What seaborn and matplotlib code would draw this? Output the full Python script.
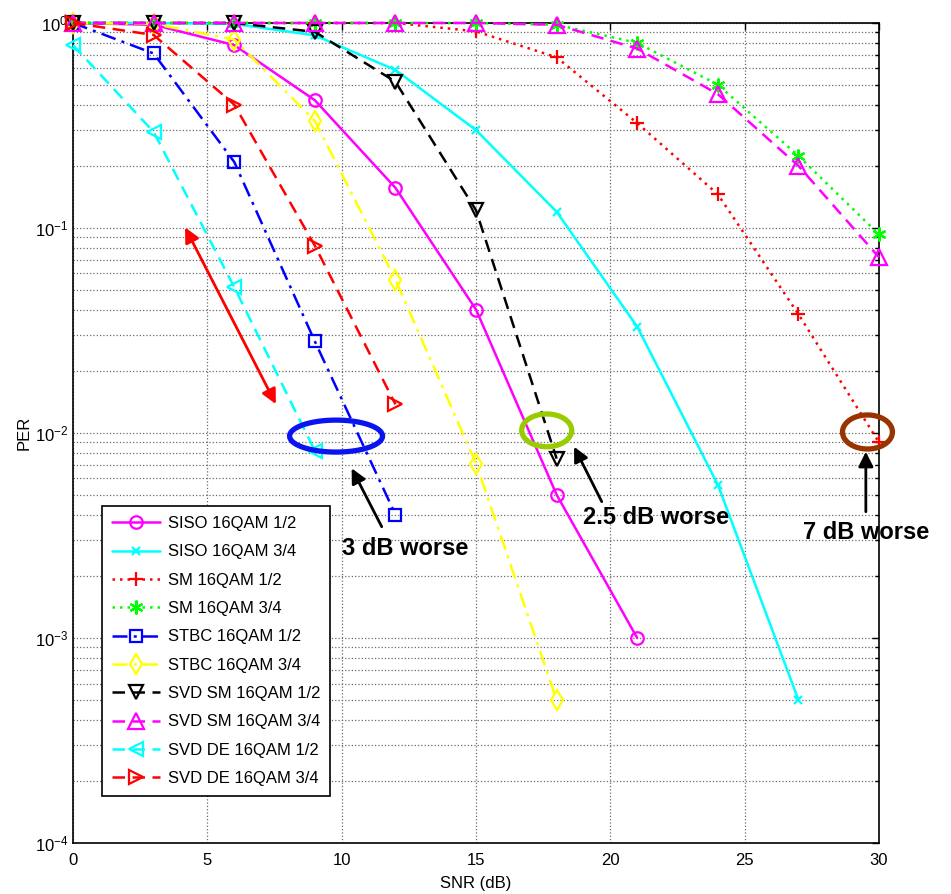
import numpy as np
import pandas as pd
import matplotlib
matplotlib.use("Agg")
import matplotlib.pyplot as plt
from matplotlib.ticker import LogLocator, LogFormatterSciNotation, NullFormatter, MultipleLocator
import seaborn as sns

# ---- data: packet error rate vs. SNR for each transmission scheme ----
snr = [0, 3, 6, 9, 12, 15, 18, 21, 24, 27, 30]

siso_12 = [1.0, 0.98, 0.78, 0.42, 0.157, 0.040, 0.005, 0.001]
siso_34 = [1.0, 1.0, 0.99, 0.87, 0.59, 0.30, 0.12, 0.033, 0.0056, 0.0005]
sm_12 = [1.0, 1.0, 1.0, 1.0, 1.0, 0.91, 0.68, 0.325, 0.146, 0.038, 0.009]
sm_34 = [1.0, 1.0, 1.0, 1.0, 1.0, 1.0, 0.98, 0.80, 0.50, 0.225, 0.093]
stbc_12 = [1.0, 0.71, 0.21, 0.028, 0.004]
stbc_34 = [1.0, 0.99, 0.83, 0.333, 0.056, 0.0071, 0.0005]
svdsm_12 = [1.0, 1.0, 1.0, 0.905, 0.517, 0.122, 0.0075]
svdsm_34 = [1.0, 1.0, 1.0, 1.0, 1.0, 1.0, 0.98, 0.75, 0.45, 0.201, 0.072]
svdde_12 = [0.78, 0.294, 0.0515, 0.0082]
svdde_34 = [1.0, 0.874, 0.40, 0.082, 0.0138]

labels = ["SISO 16QAM 1/2", "SISO 16QAM 3/4", "SM 16QAM 1/2", "SM 16QAM 3/4",
          "STBC 16QAM 1/2", "STBC 16QAM 3/4", "SVD SM 16QAM 1/2", "SVD SM 16QAM 3/4",
          "SVD DE 16QAM 1/2", "SVD DE 16QAM 3/4"]
series = [siso_12, siso_34, sm_12, sm_34, stbc_12, stbc_34,
          svdsm_12, svdsm_34, svdde_12, svdde_34]

# line appearance per scheme: (colour, linestyle, marker, markersize)
styles = [
    ("#FF00FF", "-", "o", 9),
    ("#00FFFF", "-", "x", 6),
    ("#FF0000", (0, (1, 2)), "+", 10),
    ("#00FF00", (0, (1, 2)), (6, 2, 0), 10),
    ("#0000FF", (0, (6, 2.5, 1.2, 2.5)), "s", 8.5),
    ("#FFFF00", (0, (6, 2.5, 1.2, 2.5)), "d", 10),
    ("#000000", (0, (5, 3)), "v", 10),
    ("#FF00FF", (0, (5, 3)), "^", 11),
    ("#00FFFF", (0, (5, 3)), "<", 10),
    ("#FF0000", (0, (5, 3)), ">", 10),
]

sns.set_style("white")
plt.rcParams["font.family"] = ["Liberation Sans", "DejaVu Sans"]
plt.rcParams["mathtext.fontset"] = "custom"
plt.rcParams["mathtext.rm"] = "Liberation Sans"
plt.rcParams["mathtext.it"] = "Liberation Sans:italic"
plt.rcParams["mathtext.default"] = "regular"
plt.rcParams["axes.unicode_minus"] = False
plt.rcParams["text.color"] = "black"
plt.rcParams["axes.labelcolor"] = "black"

fig = plt.figure(figsize=(9.51, 8.94), dpi=100)
ax = fig.add_axes([0.0768, 0.057, 0.8475, 0.9173])

for lab, vals, (col, ls, mk, ms) in zip(labels, series, styles):
    df = pd.DataFrame({"SNR": snr[:len(vals)], "PER": vals})
    sns.lineplot(data=df, x="SNR", y="PER", ax=ax, color=col, linestyle=ls,
                 marker=mk, markersize=ms, mfc="none", mec=col, mew=1.6,
                 lw=1.8, label=lab, clip_on=False, zorder=3)

ax.set_yscale("log")
ax.set_xlim(0, 30)
ax.set_ylim(1e-4, 1)
ax.xaxis.set_major_locator(MultipleLocator(5))
ax.yaxis.set_major_locator(LogLocator(base=10, numticks=10))
ax.yaxis.set_major_formatter(LogFormatterSciNotation())
ax.yaxis.set_minor_locator(LogLocator(base=10, subs=np.arange(2, 10), numticks=50))
ax.yaxis.set_minor_formatter(NullFormatter())

ax.grid(True, which="major", axis="both", color="0.42", linestyle=":", linewidth=0.9)
ax.grid(True, which="minor", axis="y", color="0.42", linestyle=":", linewidth=0.9)
ax.set_axisbelow(True)

ax.tick_params(which="both", direction="in", top=True, right=True, labelsize=12, colors="black")
ax.tick_params(which="major", length=5, width=1)
ax.tick_params(which="minor", length=3, width=1)
ax.tick_params(axis="x", pad=7)
for sp in ax.spines.values():
    sp.set_color("black")
    sp.set_linewidth(1.2)

ax.set_xlabel("SNR (dB)", fontsize=12, labelpad=6)
ax.set_ylabel("PER", fontsize=12, labelpad=2)

# legend box
leg = ax.legend(loc="lower left", bbox_to_anchor=(0.0356, 0.0573), borderaxespad=0,
                fontsize=12, frameon=True, fancybox=False, edgecolor="black",
                framealpha=1, handlelength=2.9, handletextpad=0.45,
                labelspacing=0.8, borderpad=0.6)
leg.get_frame().set_linewidth(1.2)


def ring(cx, cy_log, w, h_dec, color):
    """Closed outline drawn in data space on the log-y axes."""
    t = np.linspace(0, 2 * np.pi, 240)
    ax.plot(cx + w / 2 * np.cos(t), 10 ** (cy_log + h_dec / 2 * np.sin(t)),
            color=color, lw=3.8, clip_on=False, zorder=6)


ring(9.79, -2.015, 3.46, 0.156, "#0A14F0")
ring(17.63, -1.987, 1.86, 0.16, "#99CC00")
ring(29.57, -1.995, 1.86, 0.166, "#993300")

# double arrow indicating the shift between curves
ax.annotate("", xy=(4.17, 10 ** -0.997), xytext=(7.55, 10 ** -1.859),
            arrowprops=dict(arrowstyle="<|-|>", color="#FF0000", lw=2,
                            mutation_scale=22, shrinkA=0, shrinkB=0), zorder=6)

arrow_kw = dict(arrowstyle="-|>", color="black", lw=2, mutation_scale=22,
                shrinkA=0, shrinkB=0)
ax.annotate("", xy=(10.37, 10 ** -2.172), xytext=(11.49, 10 ** -2.457),
            arrowprops=arrow_kw, zorder=6)
ax.annotate("", xy=(18.65, 10 ** -2.067), xytext=(19.68, 10 ** -2.335),
            arrowprops=arrow_kw, zorder=6)
ax.annotate("", xy=(29.51, 10 ** -2.091), xytext=(29.51, 10 ** -2.384),
            arrowprops=arrow_kw, zorder=6, annotation_clip=False)

txt_kw = dict(fontsize=17, fontweight="bold", ha="left", va="center", zorder=7,
              clip_on=False, color="black")
ax.text(10.01, 10 ** -2.561, "3 dB worse", **txt_kw)
ax.text(18.99, 10 ** -2.412, "2.5 dB worse", **txt_kw)
ax.text(27.18, 10 ** -2.483, "7 dB worse", **txt_kw)

fig.savefig("out.png", dpi=100)
